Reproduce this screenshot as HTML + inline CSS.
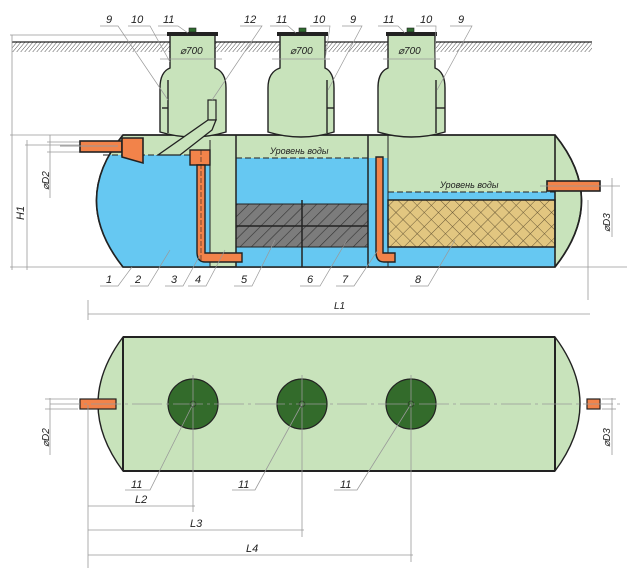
<!DOCTYPE html>
<html><head><meta charset="utf-8"><style>
html,body{margin:0;padding:0;background:#fff;}
svg{display:block;}
text{font-family:"Liberation Sans",sans-serif;font-style:italic;fill:#222;}
</style></head><body>
<svg width="627" height="568" viewBox="0 0 627 568" xmlns="http://www.w3.org/2000/svg">
<defs>
<pattern id="gh" width="4" height="10" patternUnits="userSpaceOnUse" patternTransform="skewX(-40)">
<line x1="0" y1="0" x2="0" y2="10" stroke="#333" stroke-width="1.1"/></pattern>
<pattern id="dk" width="8" height="8" patternUnits="userSpaceOnUse" patternTransform="rotate(45)">
<rect width="8" height="8" fill="#7c7c7c"/><line x1="0" y1="0" x2="0" y2="8" stroke="#333" stroke-width="1.2"/></pattern>
<pattern id="xh" width="10" height="10" patternUnits="userSpaceOnUse" patternTransform="rotate(45)">
<rect width="10" height="10" fill="#e2c680"/><line x1="0" y1="0" x2="0" y2="10" stroke="#6b5a38" stroke-width="1"/><line x1="0" y1="0" x2="10" y2="0" stroke="#6b5a38" stroke-width="1"/></pattern>
<clipPath id="tank"><path d="M123,135 L555,135 Q608,200 555,267 L123,267 Q70,200 123,135 Z"/></clipPath>
</defs>

<!-- ground -->
<rect x="12" y="42" width="580" height="10" fill="url(#gh)"/>
<line x1="12" y1="42" x2="592" y2="42" stroke="#222" stroke-width="1.2"/>
<g stroke="#999" stroke-width="0.8" fill="none">
<line x1="10" y1="35" x2="168" y2="35"/>
<line x1="12" y1="35" x2="12" y2="270"/>
<line x1="10" y1="135" x2="123" y2="135"/>
<line x1="27" y1="140" x2="27" y2="270"/>
<line x1="10" y1="267" x2="123" y2="267"/>
<line x1="25" y1="145" x2="80" y2="145"/>
<line x1="50" y1="135" x2="50" y2="198"/>
<line x1="47" y1="142" x2="80" y2="142"/><line x1="47" y1="152" x2="80" y2="152"/>
</g>
<text x="0" y="0" font-size="11" transform="translate(24,220) rotate(-90)">H1</text>
<text x="0" y="0" font-size="10" transform="translate(49,190) rotate(-90)">⌀D2</text>

<!-- main tank -->
<path d="M123,135 L555,135 Q608,200 555,267 L123,267 Q70,200 123,135 Z" fill="#c8e3bb" stroke="#222" stroke-width="1.6"/>
<g clip-path="url(#tank)">
<rect x="60" y="155" width="150" height="112" fill="#66c8f2"/>
<rect x="236" y="158" width="132" height="109" fill="#66c8f2"/>
<rect x="368" y="158" width="20" height="109" fill="#66c8f2"/>
<rect x="388" y="192" width="167" height="75" fill="#66c8f2"/>
</g>
<!-- filters -->
<rect x="236" y="204" width="132" height="43" fill="url(#dk)" stroke="#222" stroke-width="1"/>
<line x1="236" y1="226" x2="368" y2="226" stroke="#222" stroke-width="1.5"/>
<line x1="302" y1="200" x2="302" y2="267" stroke="#222" stroke-width="1.5"/>
<rect x="388" y="200" width="167" height="47" fill="url(#xh)" stroke="#222" stroke-width="1.5"/>
<!-- water levels -->
<g stroke="#222" stroke-width="1" stroke-dasharray="6,3">
<line x1="103" y1="155" x2="210" y2="155"/>
<line x1="236" y1="158" x2="368" y2="158"/>
<line x1="388" y1="192" x2="555" y2="192"/>
</g>
<text x="270" y="154" font-size="9">Уровень воды</text>
<text x="440" y="188" font-size="9">Уровень воды</text>
<!-- partitions -->
<g stroke="#222" stroke-width="1.5">
<line x1="236" y1="135" x2="236" y2="267"/>
<line x1="368" y1="135" x2="368" y2="267"/>
<line x1="388" y1="135" x2="388" y2="267" stroke-width="1"/>
<line x1="210" y1="140" x2="210" y2="267" stroke-width="1"/>
</g>
<path d="M123,135 L555,135 Q608,200 555,267 L123,267 Q70,200 123,135 Z" fill="none" stroke="#222" stroke-width="1.6"/>
<line x1="555" y1="135" x2="555" y2="267" stroke="#222" stroke-width="1.6"/>

<!-- necks -->
<g fill="#c8e3bb" stroke="#222" stroke-width="1.4">
<path d="M170,34 L170,68 Q160,72 160,88 L160,132 Q193,142 226,132 L226,88 Q226,72 215,68 L215,34 Z"/>
<path d="M280,34 L280,68 Q268,72 268,88 L268,132 Q301,142 334,132 L334,88 Q334,72 325,68 L325,34 Z"/>
<path d="M388,34 L388,68 Q378,72 378,88 L378,132 Q411,142 445,132 L445,88 Q445,72 435,68 L435,34 Z"/>
</g>
<g fill="#222">
<rect x="167" y="32" width="51" height="4"/><rect x="277" y="32" width="51" height="4"/><rect x="386" y="32" width="51" height="4"/>
</g>
<g fill="#2f6b2f" stroke="#222" stroke-width="0.6">
<rect x="189" y="28" width="7" height="4"/><rect x="299" y="28" width="7" height="4"/><rect x="407" y="28" width="7" height="4"/>
</g>
<g stroke="#222" stroke-width="1.4">
<line x1="168" y1="80" x2="168" y2="133"/><line x1="162" y1="108" x2="168" y2="108"/>
<line x1="327" y1="80" x2="327" y2="133"/><line x1="327" y1="108" x2="334" y2="108"/>
<line x1="436" y1="80" x2="436" y2="133"/><line x1="436" y1="108" x2="445" y2="108"/>
</g>
<text x="180" y="54" font-size="10">⌀700</text>
<text x="290" y="54" font-size="10">⌀700</text>
<text x="398" y="54" font-size="10">⌀700</text>
<g stroke="#999" stroke-width="0.7">
<line x1="160" y1="59" x2="222" y2="59"/><line x1="272" y1="59" x2="330" y2="59"/><line x1="383" y1="59" x2="440" y2="59"/>
</g>
<!-- tray 12 -->
<rect x="208" y="100" width="8" height="20" fill="#c8e3bb" stroke="#222" stroke-width="1.2"/>
<path d="M208,120 L216,120 L212,130 L180,155 L158,155 Z" fill="#c8e3bb" stroke="#222" stroke-width="1.3"/>

<!-- inlet -->
<rect x="80" y="141" width="42" height="11" fill="#f2834a" stroke="#222" stroke-width="1.6"/>
<path d="M122,138 L143,138 L143,163 L122,157 Z" fill="#f2834a" stroke="#222" stroke-width="1.6"/>
<line x1="60" y1="146" x2="118" y2="146" stroke="#999" stroke-width="1"/>
<!-- pipe 3 -->
<rect x="190" y="150" width="20" height="15" fill="#f2834a" stroke="#222" stroke-width="1.4"/>
<path d="M197,165 L205,165 L205,253 L242,253 L242,262 L205,262 Q197,262 197,252 Z" fill="#f2834a" stroke="#222" stroke-width="1.4"/>
<line x1="201" y1="150" x2="201" y2="262" stroke="#222" stroke-width="0.6" stroke-dasharray="5,2"/>
<!-- pipe 7 -->
<path d="M376,157 L383,157 L383,253 L395,253 L395,262 L384,262 Q376,262 376,252 Z" fill="#f2834a" stroke="#222" stroke-width="1.4"/>
<!-- outlet -->
<rect x="547" y="181" width="53" height="10" fill="#f2834a" stroke="#222" stroke-width="1.6"/>
<g stroke="#999" stroke-width="0.8">
<line x1="540" y1="186" x2="620" y2="186"/>
<line x1="612" y1="178" x2="612" y2="237"/>
<line x1="588" y1="200" x2="588" y2="300"/>
<line x1="88" y1="300" x2="88" y2="320"/>
<line x1="88" y1="314" x2="590" y2="314"/>
<line x1="560" y1="267" x2="627" y2="267"/>
</g>
<text x="0" y="0" font-size="10" transform="translate(610,232) rotate(-90)">⌀D3</text>
<text x="334" y="309" font-size="10">L1</text>

<!-- leaders top -->
<g stroke="#999" stroke-width="0.7" fill="none">
<path d="M100,26 L118,26 L168,100"/><path d="M128,26 L150,26 L170,62"/><path d="M158,26 L178,26 L188,33"/>
<path d="M240,26 L262,26 L212,100"/><path d="M270,26 L288,26 L296,33"/><path d="M310,26 L330,26 L325,60"/>
<path d="M342,26 L362,26 L328,90"/><path d="M378,26 L398,26 L405,33"/><path d="M416,26 L436,26 L435,60"/><path d="M450,26 L472,26 L437,90"/>
<path d="M100,286 L118,286 L132,267"/><path d="M130,286 L148,286 L170,250"/><path d="M165,286 L183,286 L200,255"/><path d="M188,286 L206,286 L225,250"/>
<path d="M234,286 L252,286 L275,240"/><path d="M300,286 L320,286 L347,240"/><path d="M336,286 L354,286 L378,250"/><path d="M410,286 L428,286 L455,240"/>
</g>
<g font-size="11">
<text x="106" y="23">9</text><text x="131" y="23">10</text><text x="163" y="23">11</text><text x="244" y="23">12</text>
<text x="276" y="23">11</text><text x="313" y="23">10</text><text x="350" y="23">9</text>
<text x="383" y="23">11</text><text x="420" y="23">10</text><text x="458" y="23">9</text>
<text x="106" y="283">1</text><text x="135" y="283">2</text><text x="171" y="283">3</text><text x="195" y="283">4</text>
<text x="241" y="283">5</text><text x="307" y="283">6</text><text x="342" y="283">7</text><text x="415" y="283">8</text>
</g>

<!-- plan view -->
<path d="M123,337 L555,337 Q605,404 555,471 L123,471 Q73,404 123,337 Z" fill="#c8e3bb" stroke="#222" stroke-width="1.4"/>
<line x1="123" y1="337" x2="123" y2="471" stroke="#222" stroke-width="2"/>
<line x1="555" y1="337" x2="555" y2="471" stroke="#222" stroke-width="2"/>
<line x1="123" y1="337" x2="555" y2="337" stroke="#222" stroke-width="2"/>
<line x1="123" y1="471" x2="555" y2="471" stroke="#222" stroke-width="2"/>
<g fill="#336b2b" stroke="#222" stroke-width="1.2">
<ellipse cx="193" cy="404" rx="25" ry="25"/><ellipse cx="302" cy="404" rx="25" ry="25"/><ellipse cx="411" cy="404" rx="25" ry="25"/>
</g>
<rect x="80" y="399" width="36" height="10" fill="#f2834a" stroke="#222" stroke-width="1.2"/>
<rect x="587" y="399" width="13" height="10" fill="#f2834a" stroke="#222" stroke-width="1.2"/>
<g stroke="#999" stroke-width="0.8" fill="none">
<line x1="50" y1="404" x2="620" y2="404" stroke-dasharray="30,4,3,4"/>
<line x1="193" y1="375" x2="193" y2="512"/><line x1="302" y1="375" x2="302" y2="537"/><line x1="411" y1="375" x2="411" y2="562"/>
<line x1="88" y1="405" x2="88" y2="568"/>
<line x1="88" y1="506" x2="195" y2="506"/><line x1="88" y1="530" x2="304" y2="530"/><line x1="88" y1="555" x2="413" y2="555"/>
<path d="M125,490 L150,490 L193,404"/><path d="M232,490 L255,490 L302,404"/><path d="M334,490 L357,490 L411,404"/>
<line x1="50" y1="398" x2="50" y2="455"/><line x1="612" y1="398" x2="612" y2="455"/>
<line x1="45" y1="399" x2="78" y2="399"/><line x1="45" y1="409" x2="78" y2="409"/>
<line x1="602" y1="399" x2="616" y2="399"/><line x1="602" y1="409" x2="616" y2="409"/>
</g>
<g fill="none" stroke="#222" stroke-width="0.5"><circle cx="193" cy="404" r="3"/><circle cx="302" cy="404" r="3"/><circle cx="411" cy="404" r="3"/></g>
<g font-size="11">
<text x="131" y="488">11</text><text x="238" y="488">11</text><text x="340" y="488">11</text>
<text x="135" y="503">L2</text><text x="190" y="527">L3</text><text x="246" y="552">L4</text>
</g>
<text x="0" y="0" font-size="10" transform="translate(49,447) rotate(-90)">⌀D2</text>
<text x="0" y="0" font-size="10" transform="translate(610,447) rotate(-90)">⌀D3</text>
</svg>
</body></html>
